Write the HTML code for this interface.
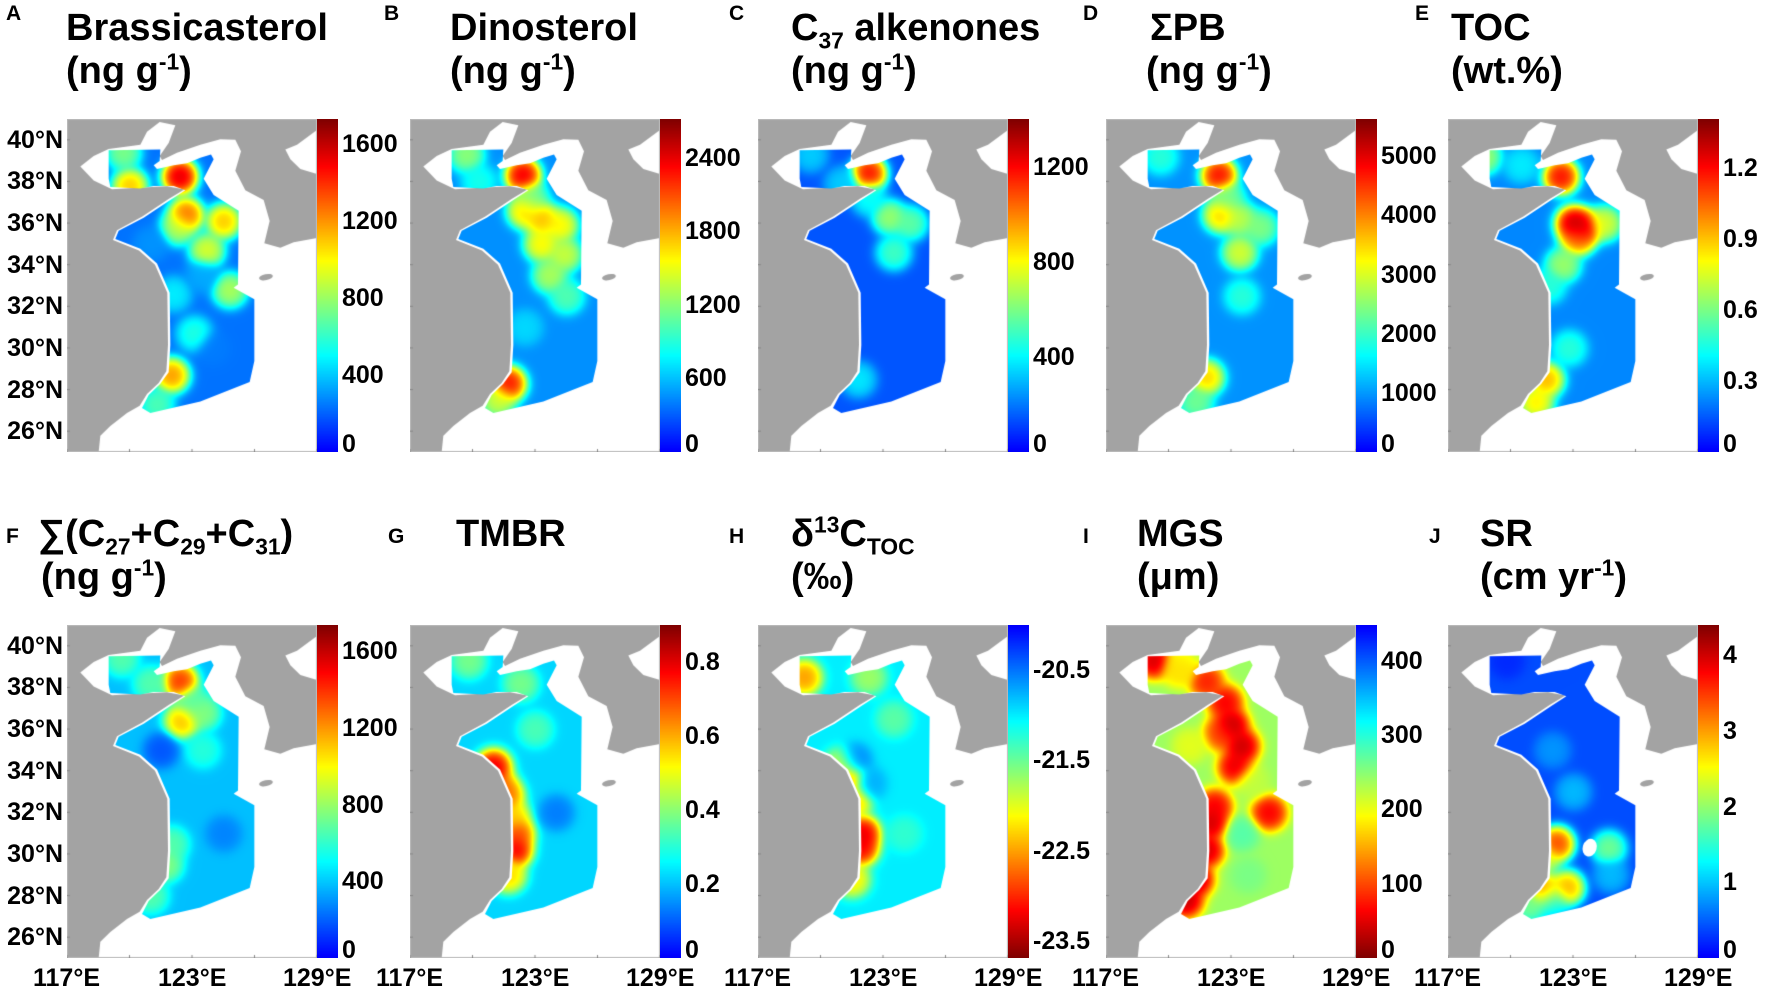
<!DOCTYPE html>
<html><head><meta charset="utf-8">
<style>
html,body{margin:0;padding:0;background:#fff;}
#root{position:relative;width:1772px;height:992px;overflow:hidden;background:#fff;font-family:"Liberation Sans",Arial,sans-serif;font-weight:bold;color:#000;}
.t{position:absolute;white-space:nowrap;line-height:1;}
.lt{font-size:21px;}
.ti{font-size:38px;}
.ax{font-size:25px;}
sub,sup{font-size:60%;line-height:0;}
canvas{position:absolute;}
</style></head>
<body>
<div id="root">
 <div class="t lt" style="left:6px;top:3px">A</div>
 <div class="t ti" style="left:66px;top:9px">Brassicasterol</div>
 <div class="t ti" style="left:66px;top:52px">(ng g<sup>-1</sup>)</div>
 <div class="t lt" style="left:384px;top:3px">B</div>
 <div class="t ti" style="left:450px;top:9px">Dinosterol</div>
 <div class="t ti" style="left:450px;top:52px">(ng g<sup>-1</sup>)</div>
 <div class="t lt" style="left:729px;top:3px">C</div>
 <div class="t ti" style="left:791px;top:9px">C<sub>37</sub> alkenones</div>
 <div class="t ti" style="left:791px;top:52px">(ng g<sup>-1</sup>)</div>
 <div class="t lt" style="left:1083px;top:3px">D</div>
 <div class="t ti" style="left:1150px;top:9px">ΣPB</div>
 <div class="t ti" style="left:1146px;top:52px">(ng g<sup>-1</sup>)</div>
 <div class="t lt" style="left:1415px;top:3px">E</div>
 <div class="t ti" style="left:1451px;top:9px">TOC</div>
 <div class="t ti" style="left:1451px;top:52px">(wt.%)</div>

 <div class="t lt" style="left:6px;top:526px">F</div>
 <div class="t ti" style="left:38px;top:515px">∑(C<sub>27</sub>+C<sub>29</sub>+C<sub>31</sub>)</div>
 <div class="t ti" style="left:41px;top:558px">(ng g<sup>-1</sup>)</div>
 <div class="t lt" style="left:388px;top:526px">G</div>
 <div class="t ti" style="left:456px;top:515px">TMBR</div>
 <div class="t lt" style="left:729px;top:526px">H</div>
 <div class="t ti" style="left:791px;top:515px">δ<sup>13</sup>C<sub>TOC</sub></div>
 <div class="t ti" style="left:791px;top:558px">(‰)</div>
 <div class="t lt" style="left:1083px;top:526px">I</div>
 <div class="t ti" style="left:1137px;top:515px">MGS</div>
 <div class="t ti" style="left:1137px;top:558px">(μm)</div>
 <div class="t lt" style="left:1429px;top:526px">J</div>
 <div class="t ti" style="left:1480px;top:515px">SR</div>
 <div class="t ti" style="left:1480px;top:558px">(cm yr<sup>-1</sup>)</div>
</div>
<script>
// ---- chart data ----
const panelKeys = ['a','b','c','d','e','f','g','h','i','j'];
const cbMin = [0,0,0,0,0, 0,0,-23.69,0,0];
const cbMax = [1729,2714,1400,5632,1.405, 1736,0.901,-20.0,448,4.4];
const cbTicks = [[0,400,800,1200,1600],[0,600,1200,1800,2400],[0,400,800,1200],[0,1000,2000,3000,4000,5000],[0,0.3,0.6,0.9,1.2],
  [0,400,800,1200,1600],[0,0.2,0.4,0.6,0.8],[-23.5,-22.5,-21.5,-20.5],[0,100,200,300,400],[0,1,2,3,4]];
const cbTickLabels = [['0','400','800','1200','1600'],['0','600','1200','1800','2400'],['0','400','800','1200'],['0','1000','2000','3000','4000','5000'],['0','0.3','0.6','0.9','1.2'],
  ['0','400','800','1200','1600'],['0','0.2','0.4','0.6','0.8'],['-23.5','-22.5','-21.5','-20.5'],['0','100','200','300','400'],['0','1','2','3','4']];
const reversedCmap = [false,false,false,false,false,false,false,true,true,false];
const bgValues = [230,450,140,950,0.22, 380,0.22,-21.0,240,0.4];
const spotLon = [
 [119.7,120.0,122.4,122.7,122.3,124.5,123.7,124.8,123.1,122.0,121.3,122.1,121.0,123.5,124.0],
 [119.7,120.3,122.4,122.5,123.3,124.2,123.3,124.4,123.7,124.5,121.7,121.2,122.5,122.8],
 [122.3,123.3,124.3,123.5,119.5,121.0,121.8,122.3],
 [119.6,122.4,122.5,123.4,123.4,124.4,121.8,121.3,123.5,122.8],
 [123.0,123.5,123.2,122.4,118.7,124.5,122.5,121.7,121.2,122.8,121.8,120.5],
 [122.4,122.5,123.5,119.6,121.0,123.5,122.0,121.7,121.0,124.5,121.5,123.0],
 [121.0,120.7,121.6,122.1,122.0,121.7,119.8,122.3,123.0,124.0,121.3,121.9,121.2],
 [122.0,121.9,121.3,121.6,119.2,121.5,121.0,122.3,123.5,121.6,122.3,124.0],
 [119.3,120.5,121.8,122.7,123.0,123.5,123.2,122.5,121.0,122.2,122.0,121.8,121.3,120.8,124.8,124.0,123.5,123.8,120.5],
 [122.2,121.6,121.6,122.7,120.9,122.0,124.7,123.0,122.0,119.8,124.8]
];
const spotLat = [
 [39.4,37.8,38.25,36.4,35.8,36.1,34.7,32.8,30.7,28.7,27.3,32.6,35.0,33.5,30.0],
 [39.3,38.0,38.3,36.6,36.2,35.9,35.0,34.5,33.5,32.5,28.3,27.5,31.0,37.2],
 [38.4,36.3,36.0,34.6,39.3,37.9,28.5,37.2],
 [39.2,38.3,36.4,36.2,34.6,35.8,28.6,27.4,32.5,37.2],
 [36.0,35.8,35.3,38.25,39.2,36.0,34.0,28.5,27.4,30.0,33.0,38.8],
 [38.3,36.4,36.8,39.4,38.2,35.0,30.5,29.5,28.0,31.0,35.0,37.3],
 [34.2,33.7,32.8,31.0,30.2,29.0,39.3,38.2,36.0,32.0,33.2,31.8,29.5],
 [31.0,30.3,33.6,32.6,38.5,28.8,34.3,38.5,36.5,34.5,33.4,31.0],
 [39.3,38.9,38.3,37.3,36.2,35.2,34.2,35.8,35.2,32.3,31.5,30.2,28.8,27.8,32.0,33.5,31.0,29.0,39.0],
 [30.5,29.8,28.3,28.4,27.5,27.8,30.3,33.0,35.0,39.3,29.0]
];
const spotVal = [
 [800,1200,1700,1400,900,1200,1000,900,600,1300,700,500,300,350,250],
 [1300,900,2600,1800,1900,1700,1700,1500,1400,1100,2500,1500,700,1200],
 [1300,700,600,550,350,350,400,450],
 [2000,5200,3800,3000,3200,2600,3800,2500,2000,2500],
 [1.4,1.35,1.1,1.3,0.7,0.8,0.7,1.0,0.9,0.5,0.5,0.4],
 [1500,1200,800,700,700,600,700,800,700,250,150,700],
 [0.85,0.85,0.7,0.75,0.85,0.6,0.4,0.4,0.35,0.12,0.7,0.6,0.45],
 [-23.5,-23.4,-22.8,-22.5,-22.7,-22.3,-22.0,-21.8,-21.5,-20.5,-20.7,-21.3],
 [20,150,60,40,10,15,30,80,200,40,20,20,10,10,40,220,280,260,200],
 [3.8,2.5,3.4,3.2,2.0,1.5,2.0,1.0,0.8,0.2,1.0]
];
// ---- geometry (outline traced in reference units) ----
const seaOutline = [[240,232],[280,200],[325,178],[420,165],[440,125],[478,95],[525,105],[505,160],[478,200],[485,212],[530,190],[600,165],[660,148],[705,150],[722,185],[705,245],[735,305],[790,335],[808,400],[792,468],[840,482],[880,465],[950,452],[950,1110],[295,1110],[300,1060],[330,1030],[380,990],[418,968],[440,932],[475,898],[498,862],[503,780],[501,620],[464,534],[416,490],[338,458],[350,428],[426,386],[506,331],[552,303],[500,293],[400,298],[335,302],[280,275]];
const seaNE = [[855,180],[890,165],[950,120],[950,255],[900,240],[870,210]];
const regionOutline = [[325,182],[480,180],[478,215],[460,228],[470,240],[520,228],[560,222],[600,205],[632,195],[640,210],[610,270],[640,320],[715,368],[713,595],[700,605],[762,640],[762,830],[748,895],[600,955],[450,990],[425,975],[445,935],[480,900],[505,865],[510,780],[508,620],[470,530],[420,485],[345,455],[355,430],[430,390],[510,335],[555,305],[520,292],[460,292],[420,300],[330,295],[325,270]];
const latTicks = [40,38,36,34,32,30,28,26];
const lonTicks = [117,123,129];

const mapLeft = [67,410,758,1106,1448];
const rowTop = [119,625];
const MW = 250, MH = 333, CBW = 21;
const root = document.getElementById('root');

function ref2ll(p){ return [117 + (p[0]-200)/62.5, 40 - (p[1]-150)/64]; }
function lx(lon){ return (lon-117)/12*MW; }
function ly(lat){ return (41-lat)/16*MH; }
function clamp(v){ return v<0?0:v>1?1:v; }
function jet(t){ t = 0.12 + 0.88*clamp(t);
  return [clamp(1.5-Math.abs(4*t-3))*255, clamp(1.5-Math.abs(4*t-2))*255, clamp(1.5-Math.abs(4*t-1))*255]; }
function pathRef(ctx, pts){ ctx.beginPath(); pts.forEach((p,i)=>{ const ll=ref2ll(p); const x=lx(ll[0]), y=ly(ll[1]); i?ctx.lineTo(x,y):ctx.moveTo(x,y); }); ctx.closePath(); }

panelKeys.forEach((key, k) => {
  const col = k % 5, row = Math.floor(k/5);
  const L = mapLeft[col], T = rowTop[row];
  const mn = cbMin[k], mx = cbMax[k];
  const cv = document.createElement('canvas');
  
  
  cv.width = MW; cv.height = MH;
  cv.style.left = L + 'px'; cv.style.top = T + 'px';
  root.appendChild(cv);
  const ctx = cv.getContext('2d');
  ctx.fillStyle = '#a3a3a3'; ctx.fillRect(0,0,MW,MH);
  ctx.fillStyle = '#fff'; pathRef(ctx, seaOutline); ctx.fill(); pathRef(ctx, seaNE); ctx.fill();
  ctx.fillStyle = '#a3a3a3'; ctx.beginPath(); ctx.ellipse(lx(126.55), ly(33.4), 7, 3, -0.2, 0, 2*Math.PI); ctx.fill();
  // field (normalised gaussian blend)
  const off = document.createElement('canvas'); off.width = MW; off.height = MH;
  const octx = off.getContext('2d'); const img = octx.createImageData(MW, MH);
  const bg = bgValues[k], sl = spotLon[k], sa = spotLat[k], sv = spotVal[k];
  const sig2 = 2*0.4*0.4, w0 = 0.15;
  for (let py=0; py<MH; py++){
    const lat = 41 - py/MH*16;
    for (let px=0; px<MW; px++){
      const lon = 117 + px/MW*12;
      let num = bg*w0, den = w0;
      for (let s=0; s<sl.length; s++){
        const dx = (lon-sl[s]), dy = (lat-sa[s]);
        const w = Math.exp(-(dx*dx+dy*dy)/sig2);
        num += sv[s]*w; den += w;
      }
      const v = num/den;
      let t = (v-mn)/(mx-mn); if (reversedCmap[k]) t = 1-t;
      const c = jet(t); const i = (py*MW+px)*4;
      img.data[i]=c[0]; img.data[i+1]=c[1]; img.data[i+2]=c[2]; img.data[i+3]=255;
    }
  }
  octx.putImageData(img,0,0);
  ctx.save(); pathRef(ctx, regionOutline); ctx.clip(); ctx.drawImage(off,0,0); ctx.restore();
  if (key==='j'){ ctx.fillStyle='#fff'; ctx.beginPath(); ctx.ellipse(lx(123.8), ly(30.3), 7, 9, 0.3, 0, 2*Math.PI); ctx.fill(); }
  ctx.strokeStyle='#bbb'; ctx.lineWidth=1; ctx.strokeRect(0.5,0.5,MW-1,MH-1);
  ctx.strokeStyle='#888';
  latTicks.forEach(la=>{ ctx.beginPath(); ctx.moveTo(0,ly(la)); ctx.lineTo(3,ly(la)); ctx.stroke(); });
  [117,120,123,126,129].forEach(lo=>{ ctx.beginPath(); ctx.moveTo(lx(lo),MH); ctx.lineTo(lx(lo),MH-3); ctx.stroke(); });

  // colorbar
  const cb = document.createElement('canvas');
  
  
  cb.width = CBW; cb.height = MH;
  cb.style.left = (L+MW) + 'px'; cb.style.top = T + 'px';
  root.appendChild(cb);
  const cctx = cb.getContext('2d');
  for (let py=0; py<MH; py++){
    let t = 1 - py/(MH-1); if (reversedCmap[k]) t = 1-t;
    const c = jet(t); cctx.fillStyle = 'rgb('+c.map(Math.round).join(',')+')'; cctx.fillRect(0,py,CBW,1);
  }
  cbTicks[k].forEach((v, j) => {
    const y = T + (mx - v)/(mx - mn)*MH;
    const d = document.createElement('div');
    d.className = 't ax';
    
    
    d.textContent = cbTickLabels[k][j];
    d.style.left = (L+MW+CBW+4) + 'px';
    d.style.top = Math.min(y - 12, T + MH - 20) + 'px';
    root.appendChild(d);
  });
  if (col === 0){
    latTicks.forEach(la => {
      const d = document.createElement('div');
      d.className = 't ax';
      
      
      d.textContent = la + '°N';
      d.style.right = (1772 - L + 4) + 'px';
      d.style.top = (T + ly(la) - 12) + 'px';
      root.appendChild(d);
    });
  }
  if (row === 1){
    lonTicks.forEach(lo => {
      const d = document.createElement('div');
      d.className = 't ax';
      
      
      d.textContent = lo + '°E';
      d.style.left = (L + lx(lo) - 34) + 'px';
      d.style.top = (T + MH + 8) + 'px';
      root.appendChild(d);
    });
  }
});
</script>
</body></html>
